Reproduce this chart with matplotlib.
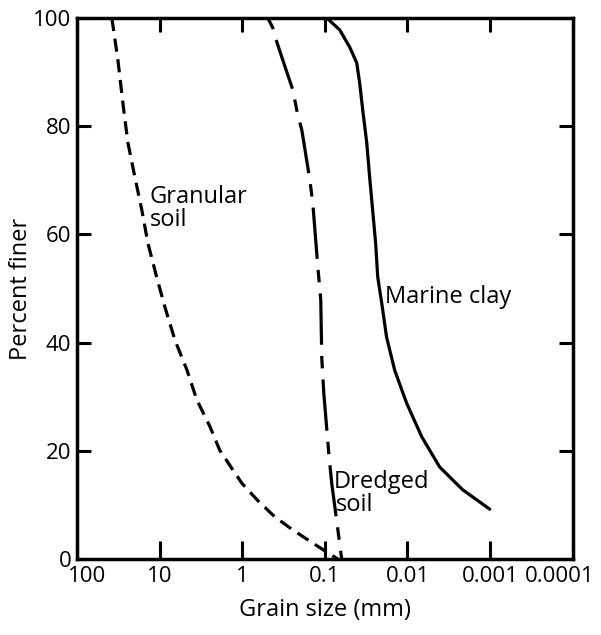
import matplotlib.pyplot as plt
from matplotlib.transforms import ScaledTranslation

plt.rcParams['font.family'] = ['Open Sans', 'DejaVu Sans']
plt.rcParams['lines.scale_dashes'] = False

# grain size (mm) vs percent finer
granular_size = [37.8, 31.9, 27.8, 24.2, 19.9, 16.4, 13.85, 10.8, 8.63, 6.53, 4.68,
                 3.54, 2.46, 1.87, 1.34, 1.01, 0.648, 0.404, 0.251, 0.152, 0.100, 0.0698]
granular_pct = [100, 92.2, 84.3, 77.0, 70.6, 64.5, 58.4, 52.0, 46.6, 40.5, 35.0,
                29.4, 24.5, 20.1, 16.8, 14.0, 10.8, 7.8, 5.5, 3.3, 1.5, 0]

dredged_size = [0.490, 0.427, 0.382, 0.305, 0.244, 0.213, 0.190, 0.152, 0.140, 0.122,
                0.112, 0.109, 0.103, 0.0897, 0.0826, 0.0718, 0.0625]
dredged_pct = [100, 98.2, 95.6, 91.1, 86.7, 82.1, 79.3, 70.1, 65.8, 54.3,
               47.9, 37.2, 30.7, 19.6, 14.0, 7.0, 0]

clay_size = [0.0948, 0.0661, 0.0500, 0.0411, 0.0379, 0.0348, 0.0311, 0.0287, 0.0264,
             0.0243, 0.0229, 0.0205, 0.0179, 0.01429, 0.01023, 0.00673, 0.00408,
             0.00215, 0.00101]
clay_pct = [100, 97.8, 94.6, 91.7, 88.0, 83.0, 76.9, 70.6, 64.5,
            58.4, 52.1, 47.3, 41.0, 34.9, 28.8, 22.6, 17.0, 12.8, 9.2]

xticks = [100, 10, 1, 0.1, 0.01, 0.001, 0.0001]
xtick_labels = ['100', '10', '1', '0.1', '0.01', '0.001', '0.0001']
yticks = [0, 20, 40, 60, 80, 100]

fig = plt.figure(figsize=(6.01, 6.35), dpi=100)
ax = fig.add_axes([0.128, 0.1197, 0.825, 0.852])

lw = 2.3
ax.plot(granular_size, granular_pct, color='black', lw=lw, linestyle=(0, (9.5, 5.5)),
        dash_joinstyle='round')
ax.plot(dredged_size, dredged_pct, color='black', lw=lw, linestyle=(45, (37, 8, 9, 8)),
        dash_joinstyle='round')
ax.plot(clay_size, clay_pct, color='black', lw=lw, solid_capstyle='round',
        solid_joinstyle='round')

ax.set_xscale('log')
ax.set_xlim(100, 0.0001)
ax.set_ylim(0, 100)
ax.set_xticks(xticks)
ax.set_xticklabels(xtick_labels)
ax.minorticks_off()
ax.set_yticks(yticks)

for s in ax.spines.values():
    s.set_linewidth(2.5)

ax.tick_params(axis='both', direction='in', width=2.2, length=10, labelsize=16,
               top=True, right=True)
ax.tick_params(axis='x', pad=5)
ax.tick_params(axis='y', pad=4)
for t in ax.xaxis.get_major_ticks():
    t.tick1line.set_markersize(13)

# nudge end labels like the original
labels = ax.get_xticklabels()
shifts = {0: 0.10, 6: -0.13}
for i, dx in shifts.items():
    labels[i].set_transform(labels[i].get_transform() + ScaledTranslation(dx, 0, fig.dpi_scale_trans))

ax.set_xlabel('Grain size (mm)', fontsize=17, labelpad=8)
ax.set_ylabel('Percent finer', fontsize=17, labelpad=0)

ax.text(13.1, 67.0, 'Granular', fontsize=17, ha='left', va='center')
ax.text(13.1, 62.7, 'soil', fontsize=17, ha='left', va='center')
ax.text(0.0189, 48.5, 'Marine clay', fontsize=17, ha='left', va='center')
ax.text(0.078, 14.2, 'Dredged', fontsize=17, ha='left', va='center')
ax.text(0.074, 9.9, 'soil', fontsize=17, ha='left', va='center')

fig.savefig('out.png', dpi=100)
